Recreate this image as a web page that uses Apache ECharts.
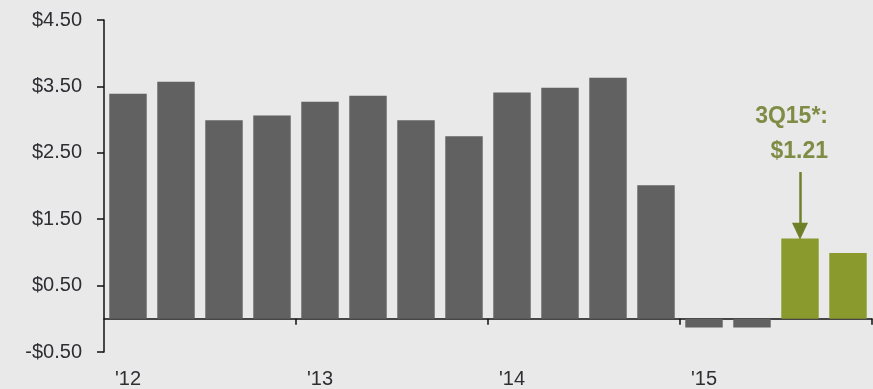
<!DOCTYPE html>
<html>
<head>
<meta charset="utf-8">
<script src="https://cdn.jsdelivr.net/npm/echarts@6/dist/echarts.min.js"></script>
<style>
  html,body{margin:0;padding:0;background:#e9e9e9;}
  #chart{width:873px;height:389px;}
</style>
</head>
<body>
<div id="chart"></div>
<script>
// quarters 1Q12 .. 4Q15
const quarters = ['1Q12','2Q12','3Q12','4Q12','1Q13','2Q13','3Q13','4Q13',
                  '1Q14','2Q14','3Q14','4Q14','1Q15','2Q15','3Q15','4Q15']
const yearLabels = ["'12","","","","'13","","","","'14","","","","'15","","",""]
const eps = [3.39, 3.57, 2.99, 3.06, 3.27, 3.36, 2.99, 2.75,
             3.41, 3.48, 3.63, 2.01, -0.13, -0.13, 1.21, 0.99]
const highlighted = ['3Q15','4Q15']
const note = {quarter:'3Q15', text:'3Q15*:\n$1.21', textAt:2.78, from:2.21, to:1.32}

const GRAY = '#616161'
const GREEN = '#8a9a2c'
const TEXT = '#2e2e33'

let chart = echarts.init(document.getElementById('chart'))

let option = {
  backgroundColor:'#e9e9e9',
  animation:false,
  grid:{left:104, right:1, top:20, bottom:36},
  xAxis:[{
    // axis line at zero with year ticks
    type:'category',
    data:quarters,
    axisLine:{onZero:true, lineStyle:{color:'#111', width:1.5}},
    axisTick:{
      show:true,
      interval:(i)=> i % 4 === 0 && i > 0,
      length:6,
      lineStyle:{color:'#111', width:1.5}
    },
    axisLabel:{show:false}
  },{
    // year labels at the bottom
    type:'category',
    position:'bottom',
    data:yearLabels,
    axisLine:{show:false},
    axisTick:{show:false},
    axisLabel:{
      interval:0,
      margin:17,
      fontSize:20,
      color:TEXT,
      fontFamily:'Liberation Sans'
    }
  }],
  yAxis:{
    type:'value',
    min:-0.5,
    max:4.5,
    interval:1,
    axisLine:{show:true, lineStyle:{color:'#111', width:1.5}},
    axisTick:{show:true, length:7, lineStyle:{color:'#111', width:1.5}},
    splitLine:{show:false},
    axisLabel:{
      margin:22,
      fontSize:20,
      color:TEXT,
      fontFamily:'Liberation Sans',
      formatter:(v)=> (v < 0 ? '-$' : '$') + Math.abs(v).toFixed(2)
    }
  },
  series:[{
    type:'bar',
    xAxisIndex:0,
    barCategoryGap:'22%',
    data:eps.map((v,i)=>({
      value:v,
      itemStyle:{color: highlighted.includes(quarters[i]) ? GREEN : GRAY}
    })),
    markLine:{
      silent:true,
      symbol:['none','triangle'],
      symbolSize:[16,17],
      lineStyle:{color:'#6f802a', width:2.5, type:'solid'},
      label:{show:false},
      data:[[
        {coord:[note.quarter, note.from]},
        {coord:[note.quarter, note.to]}
      ]]
    },
    markPoint:{
      silent:true,
      symbol:'circle',
      symbolSize:1,
      itemStyle:{color:'rgba(0,0,0,0)'},
      label:{
        show:true,
        position:'inside',
        formatter:note.text,
        color:'#7f8c45',
        fontSize:23,
        fontWeight:'bold',
        fontFamily:'Liberation Sans',
        lineHeight:35,
        align:'right',
        verticalAlign:'middle',
        offset:[28,0]
      },
      data:[{coord:[note.quarter, note.textAt]}]
    }
  }]
}

chart.setOption(option)
</script>
</body>
</html>
